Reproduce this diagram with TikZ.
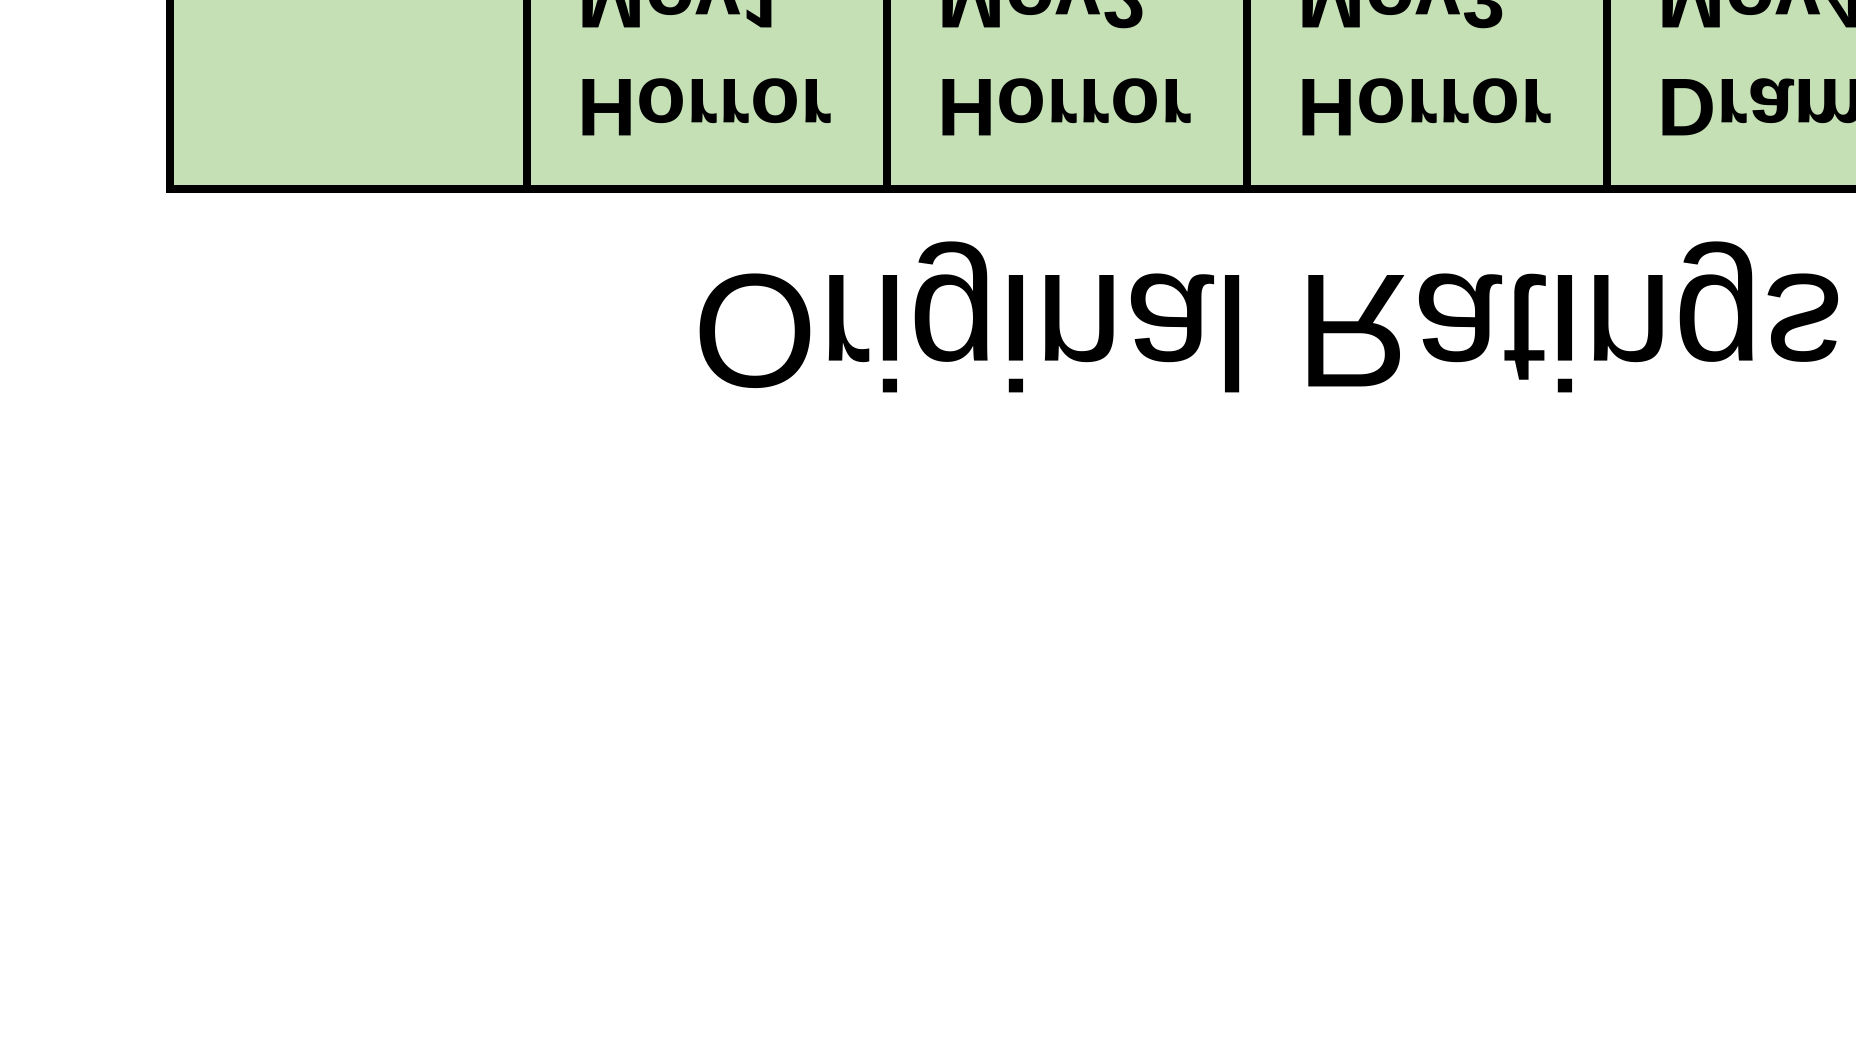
\documentclass[tikz,border=0pt]{standalone}
\usepackage{fontspec}
\setmainfont{Liberation Sans}
\definecolor{cellgreen}{HTML}{C5E0B4}
\begin{document}
\begin{tikzpicture}[x=1pt,y=1pt,yscale=-1,
  every node/.style={transform shape},
  cellbox/.style={draw=black, line width=8pt, fill=cellgreen, rectangle, inner sep=0pt,
    minimum height=340pt},
  celltext/.style={inner sep=0pt, anchor=base west,
    font=\fontsize{82}{96}\selectfont\bfseries},
  titletext/.style={inner sep=0pt, anchor=base west,
    font=\fontsize{162}{190}\selectfont}]
\useasboundingbox (0,0) rectangle (1856,1056);
\clip (0,0) rectangle (1856,1056);
% table cells (the table continues beyond the top and right edges)
\node[cellbox, minimum width=357pt] (c0) at (348.5,19) {};
\node[cellbox, minimum width=360pt] (c1) at (707,19) {};
\node[cellbox, minimum width=360pt] (c2) at (1067,19) {};
\node[cellbox, minimum width=360pt] (c3) at (1427,19) {};
\node[cellbox, minimum width=360pt] (c4) at (1787,19) {};
% cell texts (picture is mirrored top to bottom)
\node[celltext] (g1) at (577,80) {Horror};
\node[celltext] (m1) at (577,-28) {Mov1};
\node[celltext] (g2) at (937,80) {Horror};
\node[celltext] (m2) at (937,-28) {Mov2};
\node[celltext] (g3) at (1297,80) {Horror};
\node[celltext] (m3) at (1297,-28) {Mov3};
\node[celltext] (g4) at (1657,80) {Drama};
\node[celltext] (m4) at (1657,-28) {Mov4};
% caption
\node[titletext] (title) at (692,276) {Original Ratings};
\end{tikzpicture}
\end{document}
